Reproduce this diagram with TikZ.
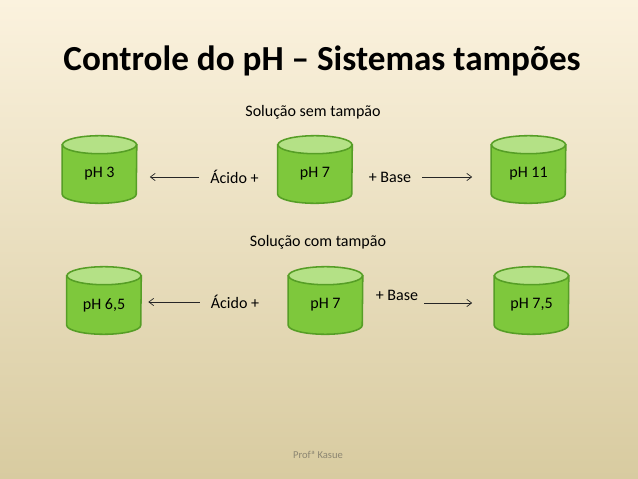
\documentclass[tikz,border=0pt]{standalone}
\usepackage{fontspec}
\setmainfont{Carlito}
\usetikzlibrary{arrows.meta,positioning,backgrounds}
\definecolor{tankbody}{RGB}{126,200,60}
\definecolor{tanktop}{RGB}{180,225,134}
\definecolor{tankline}{RGB}{86,158,38}
\definecolor{bgtop}{RGB}{251,242,222}
\definecolor{bgbottom}{RGB}{216,203,160}
\definecolor{footgray}{RGB}{140,134,114}
\tikzset{
  tank/.style={rectangle,minimum width=1.85cm,minimum height=1.45cm,inner sep=0pt,
    font=\fontsize{11.4}{13}\selectfont,text=black},
  tankshell/.style={draw=tankline,line width=1.1pt,fill=tankbody},
  tanklid/.style={draw=tankline,line width=1.1pt,fill=tanktop},
  flowlabel/.style={inner sep=0pt,font=\fontsize{11.4}{13}\selectfont},
  reactarrow/.style={-{Straight Barb[length=1.2mm,width=1.8mm]},line width=0.5pt,draw=black!85}
}

\begin{document}
\begin{tikzpicture}[x=0.025cm,y=-0.025cm]
  % fundo
  \begin{scope}[on background layer]
    \shade[top color=bgtop,bottom color=bgbottom] (0,0) rectangle (638,479);
  \end{scope}
  \useasboundingbox (0,0) rectangle (638,479);

  \node[font=\fontsize{25}{30}\selectfont\bfseries] (title) at (322,61) {Controle do pH -- Sistemas tampões};

  % sem tampao
  \node[flowlabel] (semhead) at (313,112) {Solução sem tampão};
  \node[tank] (acid1) at (99.5,174) {pH 3};
  \node[tank] (neut1) at (315,174) {pH 7};
  \node[tank] (base1) at (528.5,174) {pH 11};
  \node[flowlabel] (acidlab1) at (234.5,177) {Ácido +};
  \node[flowlabel] (baselab1) at (390,177) {+ Base};
  \draw[reactarrow,shorten <=0.275cm,shorten >=0.325cm] (acidlab1.west) -- (acidlab1.west -| acid1.east);
  \draw[reactarrow,shorten <=0.275cm,shorten >=0.475cm] (baselab1.east) -- (baselab1.east -| base1.west);

  % com tampao
  \node[flowlabel] (comhead) at (318,242) {Solução com tampão};
  \node[tank] (acid2) at (104,305) {pH 6,5};
  \node[tank] (neut2) at (325.5,305) {pH 7};
  \node[tank] (base2) at (531.5,305) {pH 7,5};
  \node[flowlabel] (acidlab2) at (235,302) {Ácido +};
  \node[flowlabel] (baselab2) at (397,295) {+ Base};
  \draw[reactarrow,shorten <=0.275cm,shorten >=0.175cm] (acidlab2.west) -- (acidlab2.west -| acid2.east);
  \draw[reactarrow,shorten <=0.15cm,shorten >=0.55cm] ([yshift=-0.2cm]baselab2.east) -- ([yshift=-0.2cm]baselab2.east -| base2.west);

  \node[font=\fontsize{7.5}{9}\selectfont,text=footgray] (author) at (318,455) {Profª Kasue};

  % cilindros
  \begin{scope}[on background layer]
    \foreach \t in {acid1,neut1,base1,acid2,neut2,base2}{
      \draw[tankshell] (\t.north west) -- ([yshift=0.225cm]\t.south west)
        arc[start angle=180,end angle=360,x radius=0.925cm,y radius=0.225cm]
        -- (\t.north east) -- cycle;
      \draw[tanklid] (\t.north) ellipse [x radius=0.925cm,y radius=0.225cm];
    }
  \end{scope}
\end{tikzpicture}
\end{document}
